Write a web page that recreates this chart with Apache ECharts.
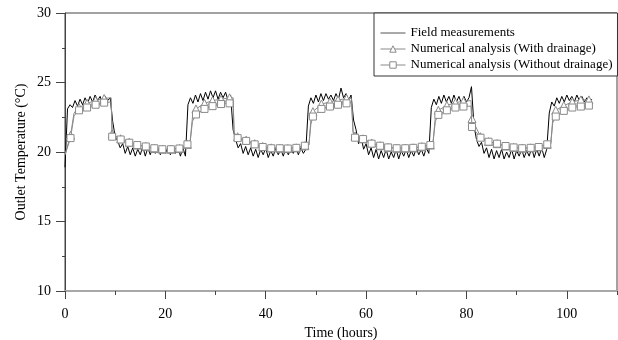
<!DOCTYPE html>
<html>
<head>
<meta charset="utf-8">
<script src="https://cdn.jsdelivr.net/npm/echarts@6/dist/echarts.min.js"></script>
<style>
  html, body { margin: 0; padding: 0; background: #fff; }
  #chart { width: 618px; height: 340px; }
</style>
</head>
<body>
<div id="chart"></div>
<script>
var seriesNames = ['Field measurements', 'Numerical analysis (With drainage)', 'Numerical analysis (Without drainage)'];

// field logger, one reading every half hour from t = 0
var fieldStep = 0.5;
var fieldTemp = [
    18.9, 23.1, 23.4, 23.2, 23.7, 23.3, 23.8, 23.4, 23.9, 23.5, 24.0, 23.6, 24.1, 23.7, 24.0, 23.5, 24.0, 23.7, 23.9,
    22.2, 21.1, 20.8, 20.3, 20.6, 19.9, 20.4, 19.8, 20.3, 19.7, 20.2, 19.8, 20.4, 19.7, 20.3, 19.8, 20.4, 19.9, 20.3,
    19.8, 20.4, 19.9, 20.3, 19.8, 20.4, 19.9, 20.4, 19.7, 20.3, 19.7,
    23.4, 23.9, 23.5, 24.1, 23.6, 24.2, 23.7, 24.3, 23.8, 24.4, 23.9, 24.4, 23.8, 24.3, 23.9, 24.3, 23.7, 24.1,
    21.6, 20.9, 20.3, 20.6, 19.9, 20.4, 19.8, 20.3, 19.7, 20.2, 19.6, 20.2, 19.8, 20.3, 19.6, 20.1, 19.7, 20.3,
    19.8, 20.2, 19.7, 20.3, 19.8, 20.2, 19.9, 20.4, 19.8, 20.3, 19.9, 20.2,
    23.3, 23.9, 23.5, 24.1, 23.6, 24.2, 23.7, 24.2, 23.8, 24.1, 23.7, 24.2, 23.8, 24.6, 23.9, 24.2, 23.7, 24.1,
    22.3, 21.6, 20.6, 21.1, 20.2, 20.6, 19.8, 20.3, 19.6, 20.2, 19.5, 20.1, 19.6, 20.2, 19.5, 20.0, 19.6, 20.2,
    19.5, 20.1, 19.7, 20.2, 19.6, 20.1, 19.7, 20.3, 19.8, 20.2, 19.7, 20.3, 19.9,
    23.2, 23.8, 23.4, 24.0, 23.5, 24.1, 23.6, 24.0, 23.5, 24.1, 23.6, 24.0, 23.5, 24.0, 23.6, 23.9, 24.7,
    21.9, 20.9, 20.4, 20.7, 19.9, 20.3, 19.6, 20.2, 19.5, 20.1, 19.6, 20.2, 19.5, 20.0, 19.6, 20.2, 19.5, 20.1,
    19.7, 20.2, 19.6, 20.1, 19.7, 20.3, 19.6, 20.2, 19.7, 20.3, 19.6, 20.2,
    22.8, 23.6, 23.3, 23.9, 23.5, 24.0, 23.6, 24.1, 23.7, 24.0, 23.6, 24.1, 23.7, 24.0, 23.6, 23.9, 23.6, 23.8
];

// simulated outlet temperature at the marker times
var simTime = [
    1.1, 2.8, 4.4, 6.1, 7.8, 9.4, 11.1, 12.8, 14.4, 16.1, 17.8, 19.4, 21.1, 22.8, 24.4,
    26.1, 27.8, 29.4, 31.1, 32.8, 34.4, 36.1, 37.8, 39.4, 41.1, 42.8, 44.4, 46.1, 47.8,
    49.4, 51.1, 52.8, 54.4, 56.1, 57.8, 59.4, 61.1, 62.8, 64.4, 66.1, 67.8, 69.4, 71.1, 72.8,
    74.4, 76.1, 77.8, 79.4, 81.1, 82.8, 84.4, 86.1, 87.8, 89.4, 91.1, 92.8, 94.4, 96.1,
    97.8, 99.4, 101.1, 102.8, 104.4
];
var simWith = [
    21.2, 23.2, 23.5, 23.7, 23.85, 21.3, 20.95, 20.7, 20.5, 20.4, 20.25, 20.2, 20.2, 20.25, 20.55,
    23.1, 23.5, 23.7, 23.8, 23.9, 21.1, 20.85, 20.6, 20.4, 20.3, 20.27, 20.25, 20.3, 20.45,
    22.9, 23.45, 23.6, 23.75, 23.85, 21.15, 20.95, 20.65, 20.45, 20.33, 20.27, 20.27, 20.3, 20.38, 20.5,
    23.0, 23.35, 23.55, 23.65, 22.4, 21.1, 20.75, 20.6, 20.43, 20.33, 20.27, 20.3, 20.36, 20.55,
    23.0, 23.34, 23.6, 23.75, 23.75
];
var simWithout = [
    21.0, 23.0, 23.2, 23.4, 23.55, 21.1, 20.9, 20.67, 20.5, 20.4, 20.27, 20.2, 20.2, 20.25, 20.55,
    22.7, 23.1, 23.3, 23.45, 23.5, 21.0, 20.8, 20.55, 20.36, 20.27, 20.27, 20.25, 20.3, 20.45,
    22.55, 23.1, 23.27, 23.4, 23.5, 21.03, 20.93, 20.6, 20.45, 20.33, 20.27, 20.27, 20.3, 20.38, 20.5,
    22.67, 23.0, 23.2, 23.27, 21.8, 21.03, 20.74, 20.6, 20.43, 20.33, 20.27, 20.3, 20.36, 20.55,
    22.55, 22.96, 23.2, 23.27, 23.34
];

// extra unmarked points where the simulated curves switch (rise / drop)
var edgeTime = [0, 1.8, 9.2, 24.9, 25.4, 33.5, 33.7, 48.6, 49.0, 57.1, 57.4, 73.3, 73.8, 80.9, 96.8, 97.2];
var edgeWith = [19.8, 22.8, 23.9, 20.6, 22.5, 23.9, 21.4, 20.5, 22.3, 23.85, 21.5, 20.55, 22.5, 23.7, 20.6, 22.4];
var edgeWithout = [19.8, 22.6, 23.6, 20.6, 22.2, 23.55, 21.3, 20.5, 22.0, 23.55, 21.4, 20.55, 22.2, 23.3, 20.6, 22.1];

var font = 'Liberation Serif';
var simColor = '#8a8a8a';

function buildField() {
    var pts = [];
    for (var i = 0; i < fieldTemp.length; i++) {
        pts.push([i * fieldStep, fieldTemp[i]]);
    }
    return pts;
}

function buildSim(vals, edgeVals) {
    var pts = [];
    for (var i = 0; i < simTime.length; i++) {
        pts.push({ value: [simTime[i], vals[i]] });
    }
    for (var j = 0; j < edgeTime.length; j++) {
        pts.push({ value: [edgeTime[j], edgeVals[j]], symbol: 'none' });
    }
    pts.sort(function (a, b) { return a.value[0] - b.value[0]; });
    return pts;
}

var simMarkStyle = { color: '#fff', borderColor: simColor, borderWidth: 1 };
var simLegendLine = { color: simColor, width: 1 };

var chart = echarts.init(document.getElementById('chart'));

var option = {
    animation: false,
    textStyle: { fontFamily: font },
    grid: {
        left: 65, right: 1, top: 13, bottom: 49,
        outerBoundsMode: 'none',
        show: true, borderColor: '#444', borderWidth: 1
    },
    legend: {
        orient: 'vertical',
        left: 374, top: 13,
        padding: [13, 5, 4, 6],
        itemGap: 2,
        itemWidth: 25,
        itemHeight: 8,
        borderColor: '#333',
        borderWidth: 1,
        backgroundColor: '#fff',
        textStyle: { fontFamily: font, fontSize: 13, color: '#000', lineHeight: 14 },
        data: [
            { name: seriesNames[0], itemStyle: { opacity: 0 }, lineStyle: { width: 1, color: '#555' } },
            { name: seriesNames[1], itemStyle: simMarkStyle, lineStyle: simLegendLine },
            { name: seriesNames[2], itemStyle: simMarkStyle, lineStyle: simLegendLine }
        ]
    },
    xAxis: [{
        type: 'value',
        min: 0, max: 110, interval: 20,
        name: 'Time (hours)',
        nameLocation: 'middle',
        nameGap: 30,
        nameTextStyle: { fontFamily: font, fontSize: 14, color: '#000' },
        axisLine: { lineStyle: { color: '#a8a8a8', width: 2 } },
        axisTick: { length: 8, lineStyle: { color: '#444' } },
        axisLabel: { margin: 16, fontFamily: font, fontSize: 14, color: '#000', showMaxLabel: false },
        splitLine: { show: false }
    }, {
        // minor ticks every 10 h
        type: 'value',
        position: 'bottom',
        min: 0, max: 110, interval: 10,
        axisLine: { show: false },
        axisTick: { length: 4, lineStyle: { color: '#444' } },
        axisLabel: { show: false },
        splitLine: { show: false }
    }],
    yAxis: {
        type: 'value',
        min: 10, max: 30, interval: 5,
        name: 'Outlet Temperature (\u00b0C)',
        nameLocation: 'middle',
        nameGap: 37,
        nameMoveOverlap: false,
        nameTextStyle: { fontFamily: font, fontSize: 14, color: '#000' },
        axisLine: { show: true, lineStyle: { color: '#444', width: 1 } },
        axisTick: { show: true, length: 9, lineStyle: { color: '#444' } },
        minorTick: { show: true, splitNumber: 2, length: 3, lineStyle: { color: '#444' } },
        axisLabel: { margin: 14, fontFamily: font, fontSize: 14, color: '#000' },
        splitLine: { show: false }
    },
    series: [{
        name: seriesNames[0],
        type: 'line',
        data: buildField(),
        symbol: 'none',
        lineStyle: { color: '#000', width: 1 },
        itemStyle: { color: '#000' },
        z: 2
    }, {
        name: seriesNames[1],
        type: 'line',
        data: buildSim(simWith, edgeWith),
        symbol: 'triangle',
        symbolSize: 8,
        showAllSymbol: true,
        lineStyle: { color: simColor, width: 1 },
        itemStyle: simMarkStyle,
        z: 3
    }, {
        name: seriesNames[2],
        type: 'line',
        data: buildSim(simWithout, edgeWithout),
        symbol: 'rect',
        symbolSize: 7,
        showAllSymbol: true,
        lineStyle: { color: simColor, width: 1 },
        itemStyle: simMarkStyle,
        z: 4
    }]
};

chart.setOption(option);
</script>
</body>
</html>
